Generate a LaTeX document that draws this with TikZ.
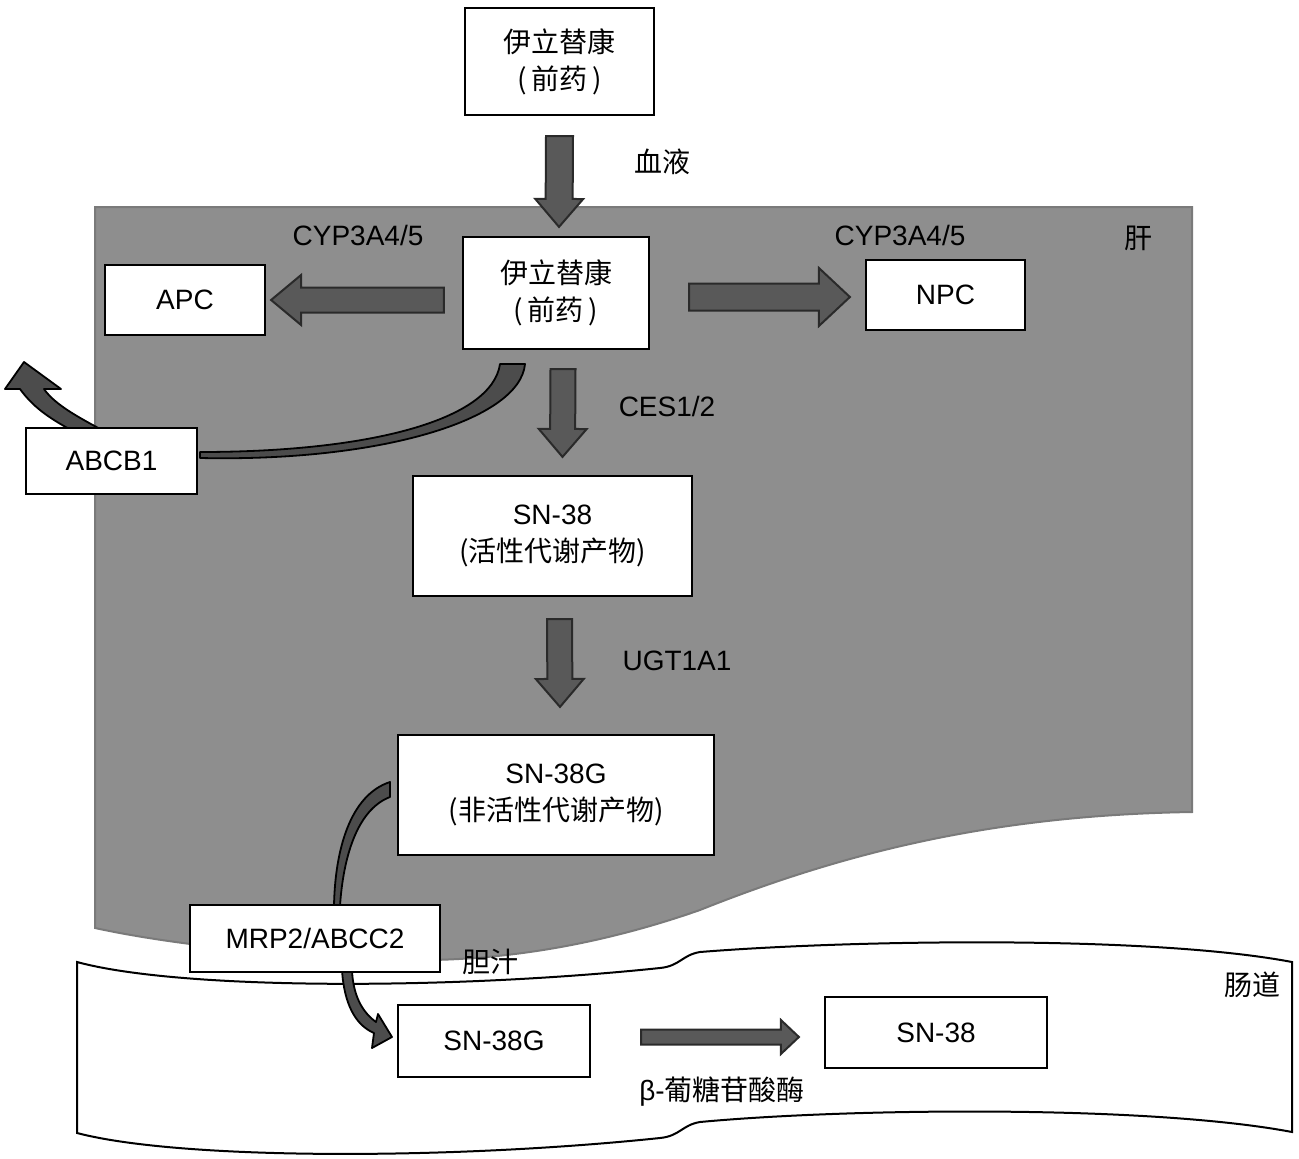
\documentclass[tikz,border=0pt]{standalone}
\usepackage{fontspec}
\setmainfont{Liberation Sans}
\newfontfamily\cjk{Noto Sans CJK SC}
\usetikzlibrary{calc}
\definecolor{liver}{HTML}{8E8E8E}
\definecolor{liverline}{HTML}{7A7A7A}
\definecolor{arrfill}{HTML}{595959}
\definecolor{arrline}{HTML}{2A2A2A}
\pgfdeclarelayer{back}
\pgfdeclarelayer{mid}
\pgfsetlayers{back,mid,main}
\tikzset{
 box/.style={draw=black, line width=2.2pt, fill=white, inner sep=0pt, align=center, font=\fontsize{28}{37}\selectfont},
 lbl/.style={inner sep=0pt, font=\fontsize{28}{34}\selectfont},
 blk/.style={fill=arrfill, draw=arrline, line width=2pt, line join=miter},
 curv/.style={fill=arrfill!85!black, draw=black, line width=1.8pt, line join=round},
}
\newcommand\blockarr[5]{%
 \path ($(#2)!#5!(#1)$) coordinate (bhb);
 \filldraw[blk] ($(#1)!#3!90:(#2)$) -- ($(bhb)!#3!-90:(#1)$) -- ($(bhb)!#4!-90:(#1)$) -- (#2) -- ($(bhb)!#4!90:(#1)$) -- ($(bhb)!#3!90:(#1)$) -- ($(#1)!#3!-90:(#2)$) -- cycle;}
\begin{document}
\begin{tikzpicture}[x=1pt,y=-1pt]
\useasboundingbox (0,0) rectangle (1299,1159);
\begin{pgfonlayer}{back}
\fill[white] (0,0) rectangle (1299,1159);
% liver
\filldraw[fill=liver, draw=liverline, line width=2pt] (95,207) -- (1192,207) -- (1192,812)
  .. controls (1000,815) and (850,850) .. (700,910)
  .. controls (600,945) and (500,962) .. (400,960)
  .. controls (250,955) and (150,940) .. (95,928) -- cycle;
% intestine
\filldraw[fill=white, draw=black, line width=2pt] (77,962)
  .. controls (180,990) and (450,990) .. (660,968)
  .. controls (680,966) and (682,955) .. (700,952)
  .. controls (850,940) and (1150,935) .. (1292,962) -- (1292,1132)
  .. controls (1150,1105) and (850,1108) .. (700,1122)
  .. controls (682,1125) and (680,1136) .. (660,1138)
  .. controls (450,1160) and (180,1160) .. (77,1133) -- cycle;
\end{pgfonlayer}
% boxes
\node[box, minimum width=189pt, minimum height=107pt] (top) at (559.5,61.5) {{\cjk 伊立替康}\\{\cjk (\,前药\,)}};
\node[box, minimum width=186pt, minimum height=112pt] (liv) at (556,293) {{\cjk 伊立替康}\\{\cjk (\,前药\,)}};
\node[box, minimum width=160pt, minimum height=70pt] (apc) at (185,300) {APC};
\node[box, minimum width=159pt, minimum height=70pt] (npc) at (945.5,295) {NPC};
\node[box, minimum width=279pt, minimum height=120pt] (sn38) at (552.5,536) {SN-38\\{\cjk (活性代谢产物)}};
\node[box, minimum width=316pt, minimum height=120pt] (sn38g) at (556,795) {SN-38G\\{\cjk (非活性代谢产物)}};
\node[box, minimum width=171pt, minimum height=66pt] (abcb1) at (111.5,461) {ABCB1};
\node[box, minimum width=250pt, minimum height=67pt] (mrp) at (315,938.5) {MRP2/ABCC2};
\node[box, minimum width=192pt, minimum height=72pt] (isn38g) at (494,1041) {SN-38G};
\node[box, minimum width=222pt, minimum height=71pt] (isn38) at (936,1032.5) {SN-38};
% labels
\node[lbl] (blood) at (662,162) {\cjk 血液};
\node[lbl] (cypl) at (358,235) {CYP3A4/5};
\node[lbl] (cypr) at (900,235) {CYP3A4/5};
\node[lbl] (gan) at (1138,238) {\cjk 肝};
\node[lbl] (ces) at (667,406) {CES1/2};
\node[lbl] (ugt) at (677,661) {UGT1A1};
\node[lbl] (bile) at (490,962) {\cjk 胆汁};
\node[lbl] (gut) at (1252,985) {\cjk 肠道};
\node[lbl] (gus) at (722,1092) {β-{\cjk 葡糖苷酸酶}};
% block arrows
\coordinate (a1s) at ($(top.south)+(0,20)$);
\coordinate (a1e) at ($(liv.north)+(3,-9)$);
\blockarr{a1s}{a1e}{13.5pt}{24pt}{28pt}
\coordinate (a2s) at ($(liv.west)+(-18,7)$);
\coordinate (a2e) at ($(apc.east)+(5,0)$);
\blockarr{a2s}{a2e}{12.5pt}{25pt}{30pt}
\coordinate (a3s) at ($(liv.east)+(39,4)$);
\coordinate (a3e) at ($(npc.west)+(-15,2)$);
\blockarr{a3s}{a3e}{13.5pt}{29pt}{31pt}
\coordinate (a4s) at ($(liv.south)+(7,19)$);
\coordinate (a4e) at ($(sn38.north)+(10,-18)$);
\blockarr{a4s}{a4e}{12.5pt}{24pt}{28pt}
\coordinate (a5s) at ($(sn38.south)+(7,22)$);
\coordinate (a5e) at ($(sn38g.north)+(4,-27)$);
\blockarr{a5s}{a5e}{12.5pt}{24pt}{28pt}
\coordinate (a6s) at ($(isn38g.east)+(50,-4)$);
\coordinate (a6e) at ($(isn38.west)+(-25,4.5)$);
\blockarr{a6s}{a6e}{7.5pt}{17pt}{18pt}
% curved arrows (under boxes)
\begin{pgfonlayer}{mid}
\filldraw[curv] (525,364) .. controls (520,420) and (380,462) .. (200,458)
  -- (200,452) .. controls (370,452) and (492,420) .. (500,364) -- cycle;
\filldraw[curv] (102,430) .. controls (80,418) and (55,405) .. (44,389)
  -- (61,389) -- (24,362) -- (5,389) -- (20,389)
  .. controls (35,410) and (55,421) .. (71,430) -- cycle;
\filldraw[curv] (390,782) .. controls (350,795) and (335,850) .. (334,906)
  -- (340,906) .. controls (343,860) and (356,810) .. (390,797) -- cycle;
\filldraw[curv] (342,970) .. controls (344,1003) and (355,1025) .. (374,1033)
  -- (372,1048) -- (392,1037) -- (378,1014) -- (376,1022)
  .. controls (362,1012) and (353,995) .. (352,970) -- cycle;
\end{pgfonlayer}
\end{tikzpicture}
\end{document}
